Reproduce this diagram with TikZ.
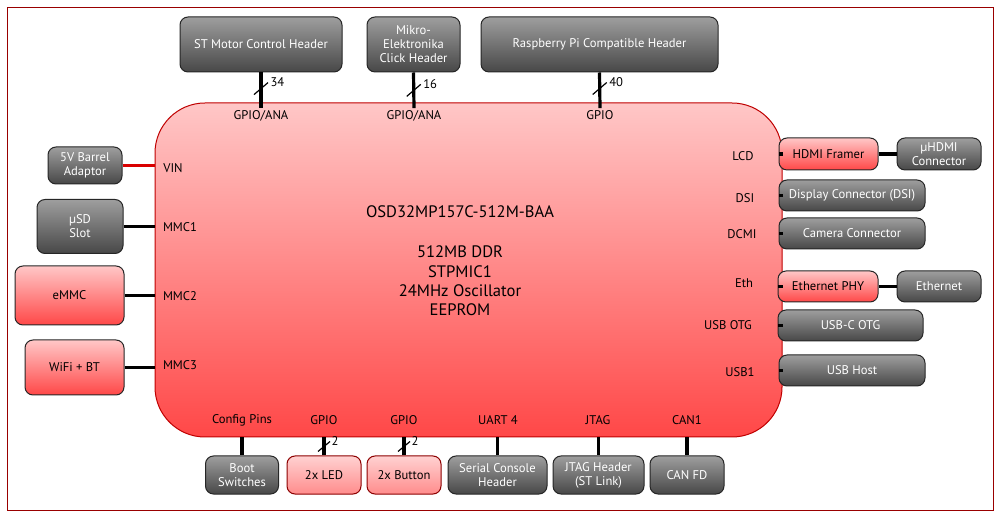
\documentclass[tikz,border=0pt]{standalone}
\usepackage{fontspec}
\setmainfont{PT Sans}
\usetikzlibrary{positioning}
\tikzset{
  box/.style={rounded corners=4pt, draw=black!85, line width=0.5pt, align=center,
    inner sep=1pt, font=\fontsize{6.3}{7}\selectfont},
  graybox/.style={box, top color=black!38, bottom color=black!72, text=white},
  redbox/.style={box, top color=red!22, bottom color=red!72, text=black},
  pinkbox/.style={box, top color=red!18, bottom color=red!45, draw=red!55!black, text=black},
  pin/.style={font=\fontsize{6.3}{7}\selectfont, inner sep=1pt},
  wire/.style={line width=1.6pt, black},
  slash/.style={line width=0.6pt, black},
}
\begin{document}
\begin{tikzpicture}[x=0.5pt, y=-0.5pt]
\useasboundingbox (0,0) rectangle (1000,517);
\draw[red!60!black, line width=0.5pt] (7,8) rectangle (993,510);

% main chip
\node[rounded corners=25pt, draw=red!75!black, line width=0.5pt, top color=red!22, bottom color=red!72,
  minimum width=313.5pt, minimum height=167pt, inner sep=0pt] (chip) at (468.5,270) {};
\node[font=\fontsize{8.3}{9.5}\selectfont] (name) at (460,212) {OSD32MP157C-512M-BAA};
\node[font=\fontsize{8.3}{9.7}\selectfont, align=center] (feat) at (460,281)
  {512MB DDR\\STPMIC1\\24MHz Oscillator\\EEPROM};

% top headers
\node[graybox, minimum width=81pt, minimum height=27.5pt] (st) at (261,44.5) {ST Motor Control Header};
\node[graybox, minimum width=46.5pt, minimum height=27.5pt] (mikro) at (413.5,44.5) {Mikro-\\Elektronika\\Click Header};
\node[graybox, minimum width=118.5pt, minimum height=27.5pt] (rpi) at (599.5,44.5) {Raspberry Pi Compatible Header};
\node[pin] (pst) at (261,116) {GPIO/ANA};
\node[pin] (pmikro) at (414,116) {GPIO/ANA};
\node[pin] (prpi) at (600,115) {GPIO};
\draw[wire] (st.south) -- coordinate[pos=.45] (bst) (pst.north);
\draw[wire] (st.south -| mikro) -- coordinate[pos=.5] (bmikro) (pmikro.north);
\draw[wire] (rpi.south) -- coordinate[pos=.45] (brpi) (prpi.north);
\draw[slash] (bst) ++(-7,6) -- ++(14,-12) node[pin, right] {34};
\draw[slash] (bmikro) ++(-7,6) -- ++(14,-12) node[pin, right] {16};
\draw[slash] (brpi) ++(-7,6) -- ++(14,-12) node[pin, right] {40};

% left side
\node[graybox, minimum width=37pt, minimum height=18.5pt] (barrel) at (85,165.5) {5V Barrel\\Adaptor};
\node[graybox, minimum width=43pt, minimum height=27pt] (usd) at (80,226.5) {µSD\\Slot};
\node[redbox, minimum width=54.5pt, minimum height=29.5pt] (emmc) at (69.5,295.5) {eMMC};
\node[redbox, minimum width=49.5pt, minimum height=27.5pt] (wifi) at (74.5,367.5) {WiFi + BT};
\node[pin] (pvin) at (173,168) {VIN};
\node[pin] (pmmc1) at (180,227) {MMC1};
\node[pin] (pmmc2) at (180,296) {MMC2};
\node[pin] (pmmc3) at (180,365) {MMC3};
\draw[wire, red!85!black] (barrel.east) -- (barrel.east -| chip.west);
\draw[wire] (usd.east) -- (usd.east -| chip.west);
\draw[wire] (emmc.east) -- (emmc.east -| chip.west);
\draw[wire] (wifi.east) -- (wifi.east -| chip.west);

% right side
\node[redbox, minimum width=49.5pt, minimum height=16pt] (hdmi) at (828.5,154) {HDMI Framer};
\node[graybox, minimum width=42pt, minimum height=16pt] (uhdmi) at (939,154) {µHDMI\\Connector};
\node[graybox, minimum width=73pt, minimum height=15.5pt] (dsi) at (852,195.5) {Display Connector (DSI)};
\node[graybox, minimum width=73pt, minimum height=15.5pt] (cam) at (852,233.5) {Camera Connector};
\node[redbox, minimum width=50pt, minimum height=15.5pt] (phy) at (828,286.5) {Ethernet PHY};
\node[graybox, minimum width=42pt, minimum height=15.5pt] (eth) at (939,286.5) {Ethernet};
\node[graybox, minimum width=72.5pt, minimum height=15.5pt] (usbc) at (850.5,325.5) {USB-C OTG};
\node[graybox, minimum width=73pt, minimum height=15.5pt] (usbh) at (852,370.5) {USB Host};
\node[pin] (plcd) at (743,156) {LCD};
\node[pin] (pdsi) at (745,198) {DSI};
\node[pin] (pdcmi) at (742,234) {DCMI};
\node[pin] (peth) at (744,283) {Eth};
\node[pin] (potg) at (728,325) {USB OTG};
\node[pin] (pusb1) at (740,372) {USB1};
\draw[wire] (chip.east |- hdmi) -- (hdmi.west);
\draw[wire] (hdmi.east) -- (uhdmi.west);
\draw[wire] (chip.east |- dsi) -- (dsi.west);
\draw[wire] (chip.east |- cam) -- (cam.west);
\draw[wire] (chip.east |- phy) -- (phy.west);
\draw[wire] (phy.east) -- (eth.west);
\draw[wire] (chip.east |- usbc) -- (usbc.west);
\draw[wire] (chip.east |- usbh) -- (usbh.west);

% bottom
\node[graybox, minimum width=36.5pt, minimum height=19pt] (boot) at (242,475) {Boot\\Switches};
\node[pinkbox, minimum width=37pt, minimum height=19pt] (led) at (324,475) {2x LED};
\node[pinkbox, minimum width=37pt, minimum height=19pt] (btn) at (404,475) {2x Button};
\node[graybox, minimum width=49.5pt, minimum height=19pt] (serial) at (497.5,475) {Serial Console\\Header};
\node[graybox, minimum width=45.5pt, minimum height=19pt] (jtag) at (598.5,475) {JTAG Header\\(ST Link)};
\node[graybox, minimum width=37pt, minimum height=19pt] (can) at (687,475) {CAN FD};
\node[pin] (pcfg) at (242,420) {Config Pins};
\node[pin] (pled) at (324,420) {GPIO};
\node[pin] (pbtn) at (404,420) {GPIO};
\node[pin] (puart) at (498,420) {UART 4};
\node[pin] (pjtag) at (598,420) {JTAG};
\node[pin] (pcan) at (687,420) {CAN1};
\draw[wire] (chip.south -| boot) -- (boot.north);
\draw[wire] (chip.south -| led) -- coordinate[pos=.5] (bled) (led.north);
\draw[wire] (chip.south -| btn) -- coordinate[pos=.5] (bbtn) (btn.north);
\draw[wire] (chip.south -| serial) -- (serial.north);
\draw[wire] (chip.south -| jtag) -- (jtag.north);
\draw[wire] (chip.south -| can) -- (can.north);
\draw[slash] (bled) ++(-6,5) -- ++(12,-10) node[pin, right, inner sep=0.5pt] {2};
\draw[slash] (bbtn) ++(-6,5) -- ++(12,-10) node[pin, right, inner sep=0.5pt] {2};
\end{tikzpicture}
\end{document}
